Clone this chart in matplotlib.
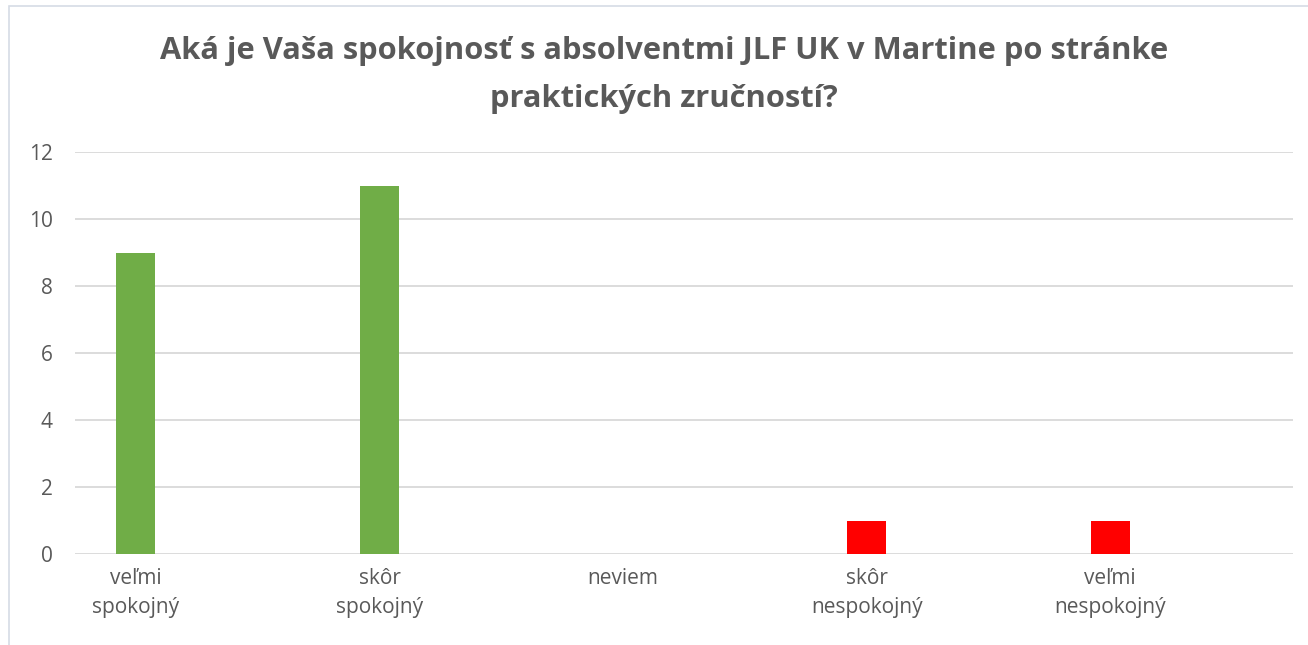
import matplotlib
matplotlib.use("Agg")
import matplotlib.pyplot as plt
from matplotlib.patches import Rectangle

categories = ["veľmi\nspokojný", "skôr\nspokojný", "neviem", "skôr\nnespokojný", "veľmi\nnespokojný"]
values = [9, 11, 0, 1, 1]
colors = ["#70AD47", "#70AD47", "#70AD47", "#FF0000", "#FF0000"]
yticks = [0, 2, 4, 6, 8, 10, 12]
title = "Aká je Vaša spokojnosť s absolventmi JLF UK v Martine po stránke\npraktických zručností?"

plt.rcParams['font.family'] = ['Open Sans', 'DejaVu Sans']

W, H = 1308, 645
fig = plt.figure(figsize=(W / 100, H / 100), dpi=100)
fig.patch.set_facecolor("white")

# chart border (faint)
fig.patches.append(Rectangle((9 / W, -0.01), 1.1, 1 - 6 / H + 0.01, transform=fig.transFigure,
                             fill=False, edgecolor="#D6DCE5", linewidth=1.2, zorder=0))

left, right, top, bottom = 75, 1293, 152, 554
ax = fig.add_axes([left / W, 1 - bottom / H, (right - left) / W, (bottom - top) / H])

x = list(range(len(categories)))
ax.bar(x, values, width=0.16, color=colors, zorder=3)
ax.set_xlim(-0.25, 4.75)
ax.set_ylim(0, 12)
ax.set_yticks(yticks)
ax.set_yticklabels([str(v) for v in yticks])
ax.set_xticks(x)
ax.set_xticklabels(categories, linespacing=1.5)
ax.grid(axis="y", color="#D9D9D9", linewidth=1.3, zorder=0)
for s in ax.spines.values():
    s.set_visible(False)
ax.tick_params(axis="both", length=0, labelsize=15, labelcolor="#595959")
ax.tick_params(axis="y", pad=16)
ax.tick_params(axis="x", pad=10)
for lbl in ax.get_yticklabels():
    lbl.set_horizontalalignment("right")

fig.text(664 / W, 1 - 75 / H, title, ha="center", va="center", fontsize=22.2,
         fontweight="bold", color="#595959", linespacing=1.8)

fig.savefig("out.png", dpi=100, facecolor="white")
